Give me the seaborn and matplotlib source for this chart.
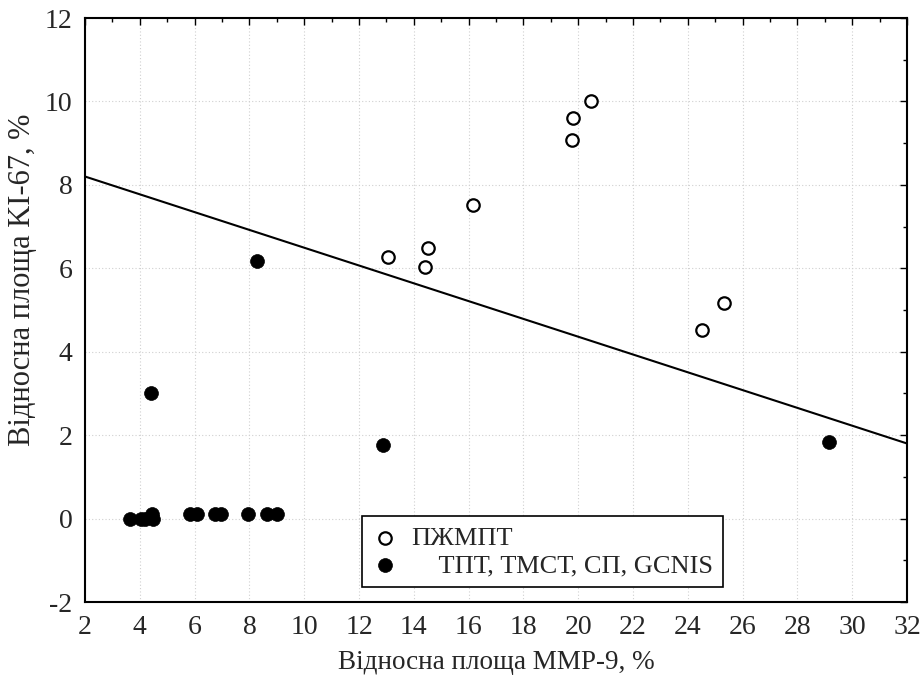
import matplotlib
matplotlib.use("Agg")
import matplotlib.pyplot as plt
import seaborn as sns
import pandas as pd
import numpy as np
from matplotlib.ticker import MultipleLocator

# Data
open_x = [13.05, 14.42, 14.52, 16.16, 19.77, 19.81, 20.47, 24.52, 25.32]
open_y = [6.28, 6.02, 6.49, 7.52, 9.08, 9.60, 10.0, 4.52, 5.17]
filled_x = [3.64, 4.04, 4.19, 4.45, 4.48, 5.83, 6.09, 6.74, 6.95, 7.95, 8.64, 9.0,
            4.41, 8.28, 12.88, 29.15]
filled_y = [0.0, 0.0, 0.0, 0.1, 0.0, 0.1, 0.1, 0.1, 0.1, 0.1, 0.1, 0.1,
            3.01, 6.17, 1.76, 1.83]
line_x = [2, 32]
line_y = [8.2, 1.8]
group_open = "ПЖМПТ"
group_filled = "ТПТ, ТМСТ, СП, GCNIS"

df = pd.DataFrame({
    "x": open_x + filled_x,
    "y": open_y + filled_y,
    "g": [group_open] * len(open_x) + [group_filled] * len(filled_x),
})

sns.set_style("white")
plt.rcParams['font.family'] = ['Liberation Serif', 'DejaVu Serif']
plt.rcParams['axes.unicode_minus'] = False

fig = plt.figure(figsize=(9.22, 6.88), dpi=100)
ax = fig.add_axes([85 / 922, 1 - 602 / 688, (907 - 85) / 922, (602 - 18) / 688])

sns.lineplot(x=line_x, y=line_y, ax=ax, color="black", linewidth=1.5, zorder=2)

sns.scatterplot(data=df[df.g == group_open], x="x", y="y", ax=ax, marker="o",
                s=80, facecolor="white", edgecolor="black", linewidth=1.6,
                label=group_open, zorder=3)
sns.scatterplot(data=df[df.g == group_filled], x="x", y="y", ax=ax, marker="o",
                s=100, color="black", edgecolor="black", linewidth=0.5,
                label="    " + group_filled, zorder=3)

ax.set_xlim(2, 32)
ax.set_ylim(-2, 12)
ax.xaxis.set_major_locator(MultipleLocator(2))
ax.xaxis.set_minor_locator(MultipleLocator(1))
ax.yaxis.set_major_locator(MultipleLocator(2))
ax.yaxis.set_minor_locator(MultipleLocator(1))
ax.tick_params(which="both", direction="in", top=True, right=True, color="black")
ax.tick_params(which="major", length=5, width=1, labelsize=20, pad=9)
ax.tick_params(which="minor", length=3, width=1)
ax.grid(True, which="major", linestyle=(0, (1, 2)), color="#d0d0d0", linewidth=0.8)
ax.set_axisbelow(True)
for sp in ax.spines.values():
    sp.set_color("black")
    sp.set_linewidth(1.5)

ax.set_xlabel("Відносна площа ММР-9, %", fontsize=19.5)
ax.set_ylabel("Відносна площа KI-67, %", fontsize=22)
ax.xaxis.set_label_coords(0.5, (602 - 650) / 584)
ax.yaxis.set_label_coords((37 - 85) / 822, (602 - 280) / 584)

leg = ax.legend(loc="lower left", bbox_to_anchor=((362 - 85) / 822, (602 - 587) / 584),
                fontsize=19, frameon=True, fancybox=False, edgecolor="black",
                framealpha=1, borderpad=0.38, handlelength=1.0, handletextpad=0.5,
                labelspacing=0.15, borderaxespad=0)
leg.get_frame().set_linewidth(1.2)

fig.savefig("out.png", dpi=100)
